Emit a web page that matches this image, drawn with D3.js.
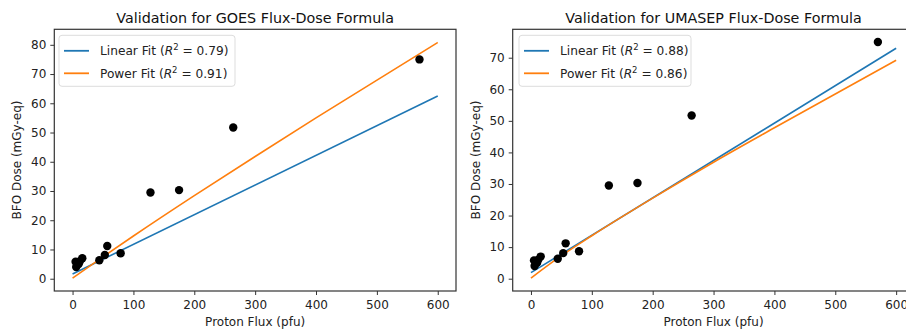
<!DOCTYPE html>
<html><head><meta charset="utf-8">
<script src="https://cdn.jsdelivr.net/npm/d3@7"></script>
<style>
html,body{margin:0;padding:0;background:#fff;overflow:hidden;}
svg{display:block;font-family:"DejaVu Sans",sans-serif;}
</style></head>
<body>
<svg id="chart" width="906" height="330"></svg>
<script>
// ---- data ----
const flux = [5, 6, 10, 12, 16, 44, 53, 57, 79, 128, 175, 264, 570];
const dose = [5.8, 4.0, 5.0, 6.0, 7.0, 6.3, 8.1, 11.2, 8.7, 29.5, 30.3, 51.7, 75.0];
const linX = [0, 600];
const goesLinear = [1.6, 62.5];
const umasepLinear = [1.9, 73.0];
const powX = [0, 50, 100, 200, 300, 400, 600];
const goesPower = [0.2, 7.5, 14.6, 28.4, 41.8, 55.0, 80.8];
const umasepPower = [0.2, 7.3, 13.6, 25.5, 36.9, 47.8, 69.2];
const titles = ["Validation for GOES Flux-Dose Formula", "Validation for UMASEP Flux-Dose Formula"];
const linearR2 = ["0.79", "0.88"];
const powerR2 = ["0.91", "0.86"];
const xTicks = [0, 100, 200, 300, 400, 500, 600];
const yTicksGoes = [0, 10, 20, 30, 40, 50, 60, 70, 80];
const yTicksUmasep = [0, 10, 20, 30, 40, 50, 60, 70];

const svg = d3.select("#chart");
const BLUE = "#1f77b4", ORANGE = "#ff7f0e";

function panel(cfg) {
  const g = svg.append("g");
  const x = d3.scaleLinear().domain([-30, 630]).range([cfg.x0, cfg.x1]);
  const y = d3.scaleLinear().domain(cfg.yDom).range([291, 29.3]);

  // fit lines
  const line = d3.line().curve(d3.curveMonotoneX).x(d => x(d[0])).y(d => y(d[1]));
  g.append("path").datum(linX.map((v, i) => [v, cfg.lin[i]]))
    .attr("d", line).attr("fill", "none").attr("stroke", BLUE).attr("stroke-width", 1.6);
  g.append("path").datum(powX.map((v, i) => [v, cfg.pow[i]]))
    .attr("d", line).attr("fill", "none").attr("stroke", ORANGE).attr("stroke-width", 1.6);

  // points
  g.selectAll("circle.pt").data(flux.map((f, i) => [f, dose[i]])).enter()
    .append("circle").attr("class", "pt")
    .attr("cx", d => x(d[0])).attr("cy", d => y(d[1])).attr("r", 4.2).attr("fill", "#000");

  // axes
  const xa = g.append("g").attr("transform", "translate(0,291)")
    .call(d3.axisBottom(x).tickValues(xTicks).tickSize(4).tickPadding(5));
  const ya = g.append("g").attr("transform", `translate(${cfg.x0},0)`)
    .call(d3.axisLeft(y).tickValues(cfg.yTicks).tickSize(4).tickPadding(4));
  [xa, ya].forEach(a => {
    a.select(".domain").remove();
    a.selectAll("text").attr("font-size", 12).attr("fill", "#222").attr("font-family", "DejaVu Sans");
    a.selectAll("line").attr("stroke", "#333");
  });

  // frame
  g.append("rect").attr("x", cfg.x0).attr("y", 29.3)
    .attr("width", cfg.x1 - cfg.x0).attr("height", 291 - 29.3)
    .attr("fill", "none").attr("stroke", "#333").attr("stroke-width", 1.2);

  // title
  g.append("text").attr("x", (cfg.x0 + cfg.x1) / 2).attr("y", 22.5)
    .attr("text-anchor", "middle").attr("font-size", 14.3).attr("fill", "#111")
    .text(cfg.title);
  // axis labels
  g.append("text").attr("x", (cfg.x0 + cfg.x1) / 2).attr("y", 326)
    .attr("text-anchor", "middle").attr("font-size", 12).attr("fill", "#222")
    .text("Proton Flux (pfu)");
  g.append("text").attr("transform", `translate(${cfg.yLabX},160) rotate(-90)`)
    .attr("text-anchor", "middle").attr("font-size", 12).attr("fill", "#222")
    .text("BFO Dose (mGy-eq)");

  // legend
  const lg = g.append("g").attr("transform", `translate(${cfg.legX},35.3)`);
  lg.append("rect").attr("width", cfg.legW).attr("height", 51).attr("rx", 3)
    .attr("fill", "#fff").attr("fill-opacity", 0.85).attr("stroke", "#ddd");
  const items = [[BLUE, "Linear Fit", cfg.lr2], [ORANGE, "Power Fit", cfg.pr2]];
  items.forEach((it, i) => {
    const yy = 15.5 + i * 22.5;
    lg.append("line").attr("x1", 5).attr("x2", 30).attr("y1", yy).attr("y2", yy)
      .attr("stroke", it[0]).attr("stroke-width", 1.8);
    const t = lg.append("text").attr("x", 41).attr("y", yy + 4.5).attr("font-size", 12.2).attr("fill", "#222");
    t.append("tspan").text(it[1] + " (");
    t.append("tspan").attr("font-style", "italic").text("R");
    t.append("tspan").attr("font-size", 8.5).attr("dy", -5).text("2");
    t.append("tspan").attr("dy", 5).text(" = " + it[2] + ")");
  });
}

panel({x0: 54.3, x1: 456, yDom: [-4.2, 85.3], yTicks: yTicksGoes, lin: goesLinear, pow: goesPower,
  title: titles[0], lr2: linearR2[0], pr2: powerR2[0], yLabX: 21, legX: 59, legW: 176});
panel({x0: 512.7, x1: 914.4, yDom: [-3.9, 79.0], yTicks: yTicksUmasep, lin: umasepLinear, pow: umasepPower,
  title: titles[1], lr2: linearR2[1], pr2: powerR2[1], yLabX: 480, legX: 519, legW: 172});
</script>
</body></html>
